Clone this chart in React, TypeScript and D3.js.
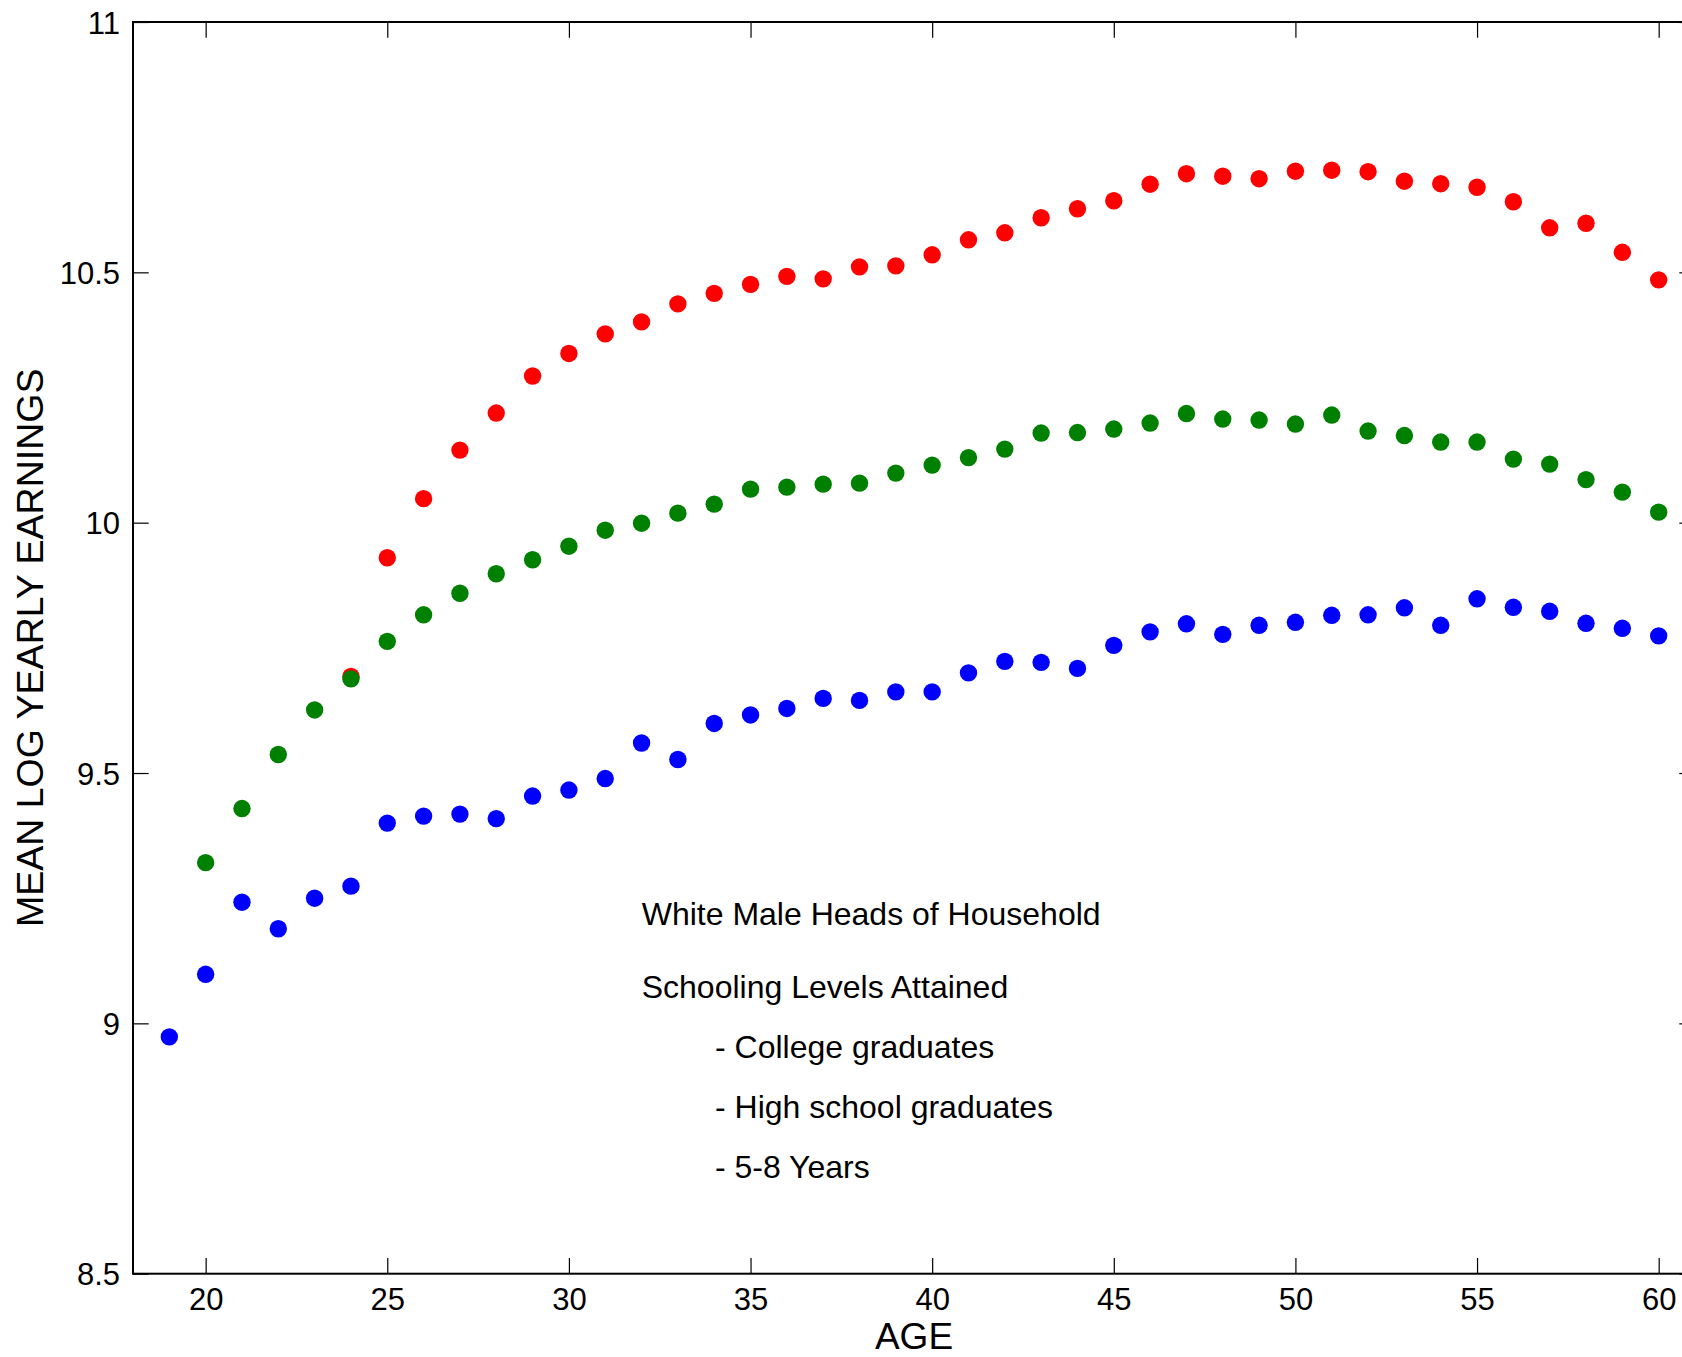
import { useEffect, useRef } from 'react';
import * as d3 from 'd3';

// ages on the x axis, 19..60
const ages = [
  19, 20, 21, 22, 23, 24, 25, 26, 27, 28, 29, 30, 31, 32, 33, 34, 35, 36, 37, 38, 39,
  40, 41, 42, 43, 44, 45, 46, 47, 48, 49, 50, 51, 52, 53, 54, 55, 56, 57, 58, 59, 60,
];

// college graduates, ages 24..60
const college = [
  9.693, 9.93, 10.048, 10.145, 10.219, 10.293, 10.338, 10.377, 10.401, 10.437, 10.458,
  10.476, 10.492, 10.487, 10.511, 10.513, 10.535, 10.565, 10.579, 10.609, 10.627, 10.643,
  10.676, 10.697, 10.692, 10.687, 10.702, 10.704, 10.701, 10.682, 10.677, 10.67, 10.641,
  10.589, 10.598, 10.54, 10.485,
];

// high school graduates, ages 20..60
const highSchool = [
  9.321, 9.429, 9.537, 9.626, 9.688, 9.763, 9.816, 9.859, 9.898, 9.926, 9.953, 9.985,
  9.999, 10.019, 10.037, 10.067, 10.071, 10.077, 10.079, 10.099, 10.115, 10.13, 10.147,
  10.179, 10.18, 10.187, 10.199, 10.218, 10.207, 10.205, 10.197, 10.215, 10.183, 10.174,
  10.161, 10.161, 10.127, 10.117, 10.086, 10.061, 10.021,
];

// 5-8 years of schooling, ages 19..60
const grade58 = [
  8.973, 9.098, 9.242, 9.189, 9.25, 9.274, 9.4, 9.414, 9.418, 9.409, 9.454, 9.466, 9.489,
  9.56, 9.527, 9.599, 9.616, 9.629, 9.649, 9.645, 9.662, 9.662, 9.7, 9.723, 9.721, 9.709,
  9.755, 9.782, 9.798, 9.777, 9.795, 9.801, 9.815, 9.816, 9.83, 9.795, 9.848, 9.831,
  9.823, 9.799, 9.789, 9.774,
];

const xTicks = [20, 25, 30, 35, 40, 45, 50, 55, 60];
const yTicks = [8.5, 9, 9.5, 10, 10.5, 11];
const yTickLabels = ['8.5', '9', '9.5', '10', '10.5', '11'];

const noteLines = [
  'White Male Heads of Household',
  'Schooling Levels Attained',
  '- College graduates',
  '- High school graduates',
  '- 5-8 Years',
];

const FONT = '"Liberation Sans", Arial, Helvetica, sans-serif';

export default function App() {
  const svgRef = useRef<SVGSVGElement>(null);

  function renderChart() {
    if (!svgRef.current) return;
    const width = 1682;
    const height = 1357;
    const left = 133, right = 1695, top = 22, bottom = 1273.7;

    const svg = d3.select(svgRef.current);
    svg.selectAll('*').remove();

    const x = d3.scaleLinear().domain([18, 61]).range([left, right]);
    const y = d3.scaleLinear().domain([8.5, 11]).range([bottom, top]);

    const tick = 15.7;

    // bottom axis with labels
    const gx = svg.append('g')
      .attr('transform', `translate(0,${bottom})`)
      .call(d3.axisBottom(x).tickValues(xTicks).tickSizeInner(-tick).tickSizeOuter(0).tickPadding(14).tickFormat(d3.format('d')));
    // left axis with labels
    const gy = svg.append('g')
      .attr('transform', `translate(${left},0)`)
      .call(d3.axisLeft(y).tickValues(yTicks).tickSizeInner(-tick).tickSizeOuter(0).tickPadding(13)
        .tickFormat((d, i) => yTickLabels[i]));
    // top + right, ticks only
    const gt = svg.append('g')
      .attr('transform', `translate(0,${top})`)
      .call(d3.axisTop(x).tickValues(xTicks).tickSizeInner(-tick).tickSizeOuter(0).tickFormat(() => ''));
    const gr = svg.append('g')
      .attr('transform', `translate(${right},0)`)
      .call(d3.axisRight(y).tickValues(yTicks).tickSizeInner(-tick).tickSizeOuter(0).tickFormat(() => ''));

    [gx, gy, gt, gr].forEach(g => {
      g.select('.domain').remove();
      g.selectAll('line').attr('stroke', '#000').attr('stroke-width', 1.2);
      g.selectAll('text')
        .attr('fill', '#000')
        .attr('font-size', 31)
        .attr('font-family', FONT);
    });
    gy.selectAll('text').attr('dy', '0.36em');

    svg.append('rect')
      .attr('x', left)
      .attr('y', top)
      .attr('width', right - left)
      .attr('height', bottom - top)
      .attr('fill', 'none')
      .attr('stroke', '#000')
      .attr('stroke-width', 2);

    const series = [
      { values: college, color: '#ff0000' },
      { values: highSchool, color: '#008000' },
      { values: grade58, color: '#0000ff' },
    ];

    series.forEach(s => {
      const a = ages.slice(ages.length - s.values.length);
      svg.append('g')
        .selectAll('circle')
        .data(s.values)
        .join('circle')
        .attr('cx', (_, i) => x(a[i]))
        .attr('cy', d => y(d))
        .attr('r', 8.7)
        .attr('fill', s.color);
    });

    // annotation block
    const noteY = [925, 998, 1058, 1118, 1178];
    svg.append('g')
      .selectAll('text')
      .data(noteLines)
      .join('text')
      .attr('x', (_, i) => (i < 2 ? 641.7 : 715))
      .attr('y', (_, i) => noteY[i])
      .attr('font-size', 32)
      .attr('font-family', FONT)
      .attr('fill', '#000')
      .text(d => d);

    svg.append('text')
      .attr('x', (left + right) / 2)
      .attr('y', 1349)
      .attr('text-anchor', 'middle')
      .attr('font-size', 37)
      .attr('font-family', FONT)
      .text('AGE');

    svg.append('text')
      .attr('transform', `translate(43,${(top + bottom) / 2}) rotate(-90)`)
      .attr('text-anchor', 'middle')
      .attr('font-size', 37.5)
      .attr('font-family', FONT)
      .text('MEAN LOG YEARLY EARNINGS');

    svg.attr('width', width).attr('height', height).attr('viewBox', `0 0 ${width} ${height}`);
  }

  useEffect(() => {
    renderChart();
  }, []);

  return (
    <svg
      ref={svgRef}
      width={1682}
      height={1357}
      style={{ position: 'absolute', left: 0, top: 0, background: '#fff', display: 'block' }}
    />
  );
}
